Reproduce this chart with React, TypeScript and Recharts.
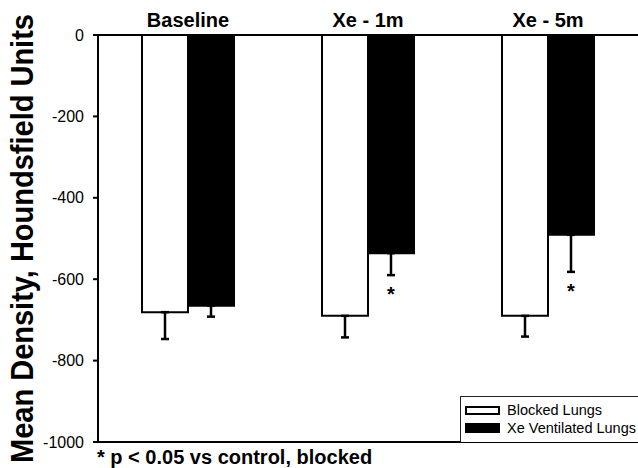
import React from "react";
import {
  BarChart,
  Bar,
  XAxis,
  YAxis,
  ErrorBar,
  LabelList,
  Legend,
  ReferenceLine,
} from "recharts";

const categories = ["Baseline", "Xe - 1m", "Xe - 5m"];
const blockedMeans = [-681, -690, -690];
const blockedSd = [66, 53, 51];
const ventMeans = [-665, -536, -491];
const ventSd = [27, 54, 91];
const ventSig = ["", "*", "*"];
const yTicks = [0, -200, -400, -600, -800, -1000];

const FONT = '"Liberation Sans", Arial, Helvetica, sans-serif';

const data = categories.map((name, i) => ({
  name,
  blocked: blockedMeans[i],
  blockedErr: [blockedSd[i], 0],
  vent: ventMeans[i],
  ventErr: [ventSd[i], 0],
  sig: ventSig[i],
}));

// asterisk under the error bar of the ventilated series
const renderStar = (props: any) => {
  const { x, y, width, height, index } = props;
  if (!ventSig[index]) return null;
  const bottom = Math.max(y, y + height);
  const pxPerUnit = Math.abs(height) / Math.abs(ventMeans[index]);
  const errEnd = bottom + ventSd[index] * pxPerUnit;
  return (
    <text
      x={x + width / 2}
      y={errEnd + 26}
      textAnchor="middle"
      fontFamily={FONT}
      fontWeight="bold"
      fontSize={20}
      fill="#000"
    >
      {ventSig[index]}
    </text>
  );
};

const YTitle = (props: any) => {
  const vb = props.viewBox;
  const cy = vb.y + vb.height / 2;
  return (
    <text
      transform={`translate(33, ${cy}) rotate(-90) scale(1, 1.08)`}
      textAnchor="middle"
      fontFamily={FONT}
      fontWeight="bold"
      fontSize={29}
      fill="#000"
    >
      Mean Density, Houndsfield Units
    </text>
  );
};

const LegendBox = () => (
  <div
    style={{
      width: 182,
      height: 46,
      boxSizing: "border-box",
      border: "1.5px solid #222",
      borderRight: "none",
      borderBottom: "none",
      paddingTop: 4,
      paddingLeft: 4,
      fontFamily: FONT,
      fontSize: 14.5,
      color: "#000",
      background: "#fff",
    }}
  >
    <div style={{ display: "flex", alignItems: "center", height: 18 }}>
      <span
        style={{
          width: 35,
          height: 9,
          boxSizing: "border-box",
          border: "2px solid #000",
          background: "#fff",
          marginRight: 7,
        }}
      />
      Blocked Lungs
    </div>
    <div style={{ display: "flex", alignItems: "center", height: 18 }}>
      <span
        style={{ width: 35, height: 10, background: "#000", marginRight: 7 }}
      />
      Xe Ventilated Lungs
    </div>
  </div>
);

export default function App() {
  return (
    <div
      style={{
        position: "absolute",
        left: 0,
        top: 0,
        width: 638,
        height: 468,
        background: "#fff",
      }}
    >
      <BarChart
        width={638}
        height={468}
        data={data}
        margin={{ top: 5, right: 0, left: 0, bottom: 26 }}
        barGap={0}
        barSize={46}
      >
        <XAxis
          dataKey="name"
          orientation="top"
          height={30}
          axisLine={{ stroke: "#000", strokeWidth: 2 }}
          tickLine={false}
          tick={{ fill: "#000", fontSize: 20, fontWeight: "bold", fontFamily: FONT }}
        />
        <YAxis
          width={98}
          domain={[-1000, 0]}
          ticks={yTicks}
          interval={0}
          allowDataOverflow
          axisLine={{ stroke: "#000", strokeWidth: 2 }}
          tickLine={{ stroke: "#000", strokeWidth: 2 }}
          tickSize={5}
          tickMargin={9}
          tick={{ fill: "#000", fontSize: 16, fontFamily: FONT }}
          label={<YTitle />}
        />
        <ReferenceLine y={-1000} stroke="#000" strokeWidth={2} />
        <Bar
          dataKey="blocked"
          name="Blocked Lungs"
          fill="#fff"
          stroke="#000"
          strokeWidth={2}
          isAnimationActive={false}
        >
          <ErrorBar
            dataKey="blockedErr"
            direction="y"
            width={4}
            stroke="#000"
            strokeWidth={2.5}
          />
        </Bar>
        <Bar
          dataKey="vent"
          name="Xe Ventilated Lungs"
          fill="#000"
          stroke="#000"
          strokeWidth={2}
          isAnimationActive={false}
        >
          <ErrorBar
            dataKey="ventErr"
            direction="y"
            width={4}
            stroke="#000"
            strokeWidth={2.5}
          />
          <LabelList dataKey="sig" content={renderStar} />
        </Bar>
        <Legend
          layout="vertical"
          align="center"
          verticalAlign="middle"
          content={() => <LegendBox />}
          wrapperStyle={{ left: 460, top: 396, width: 182, height: 46 }}
        />
      </BarChart>
      <svg
        width={638}
        height={468}
        style={{ position: "absolute", left: 0, top: 0, pointerEvents: "none" }}
      >
        <text
          x={97}
          y={464}
          fontFamily={FONT}
          fontWeight="bold"
          fontSize={20}
          fill="#000"
        >
          * p &lt; 0.05 vs control, blocked
        </text>
      </svg>
    </div>
  );
}
